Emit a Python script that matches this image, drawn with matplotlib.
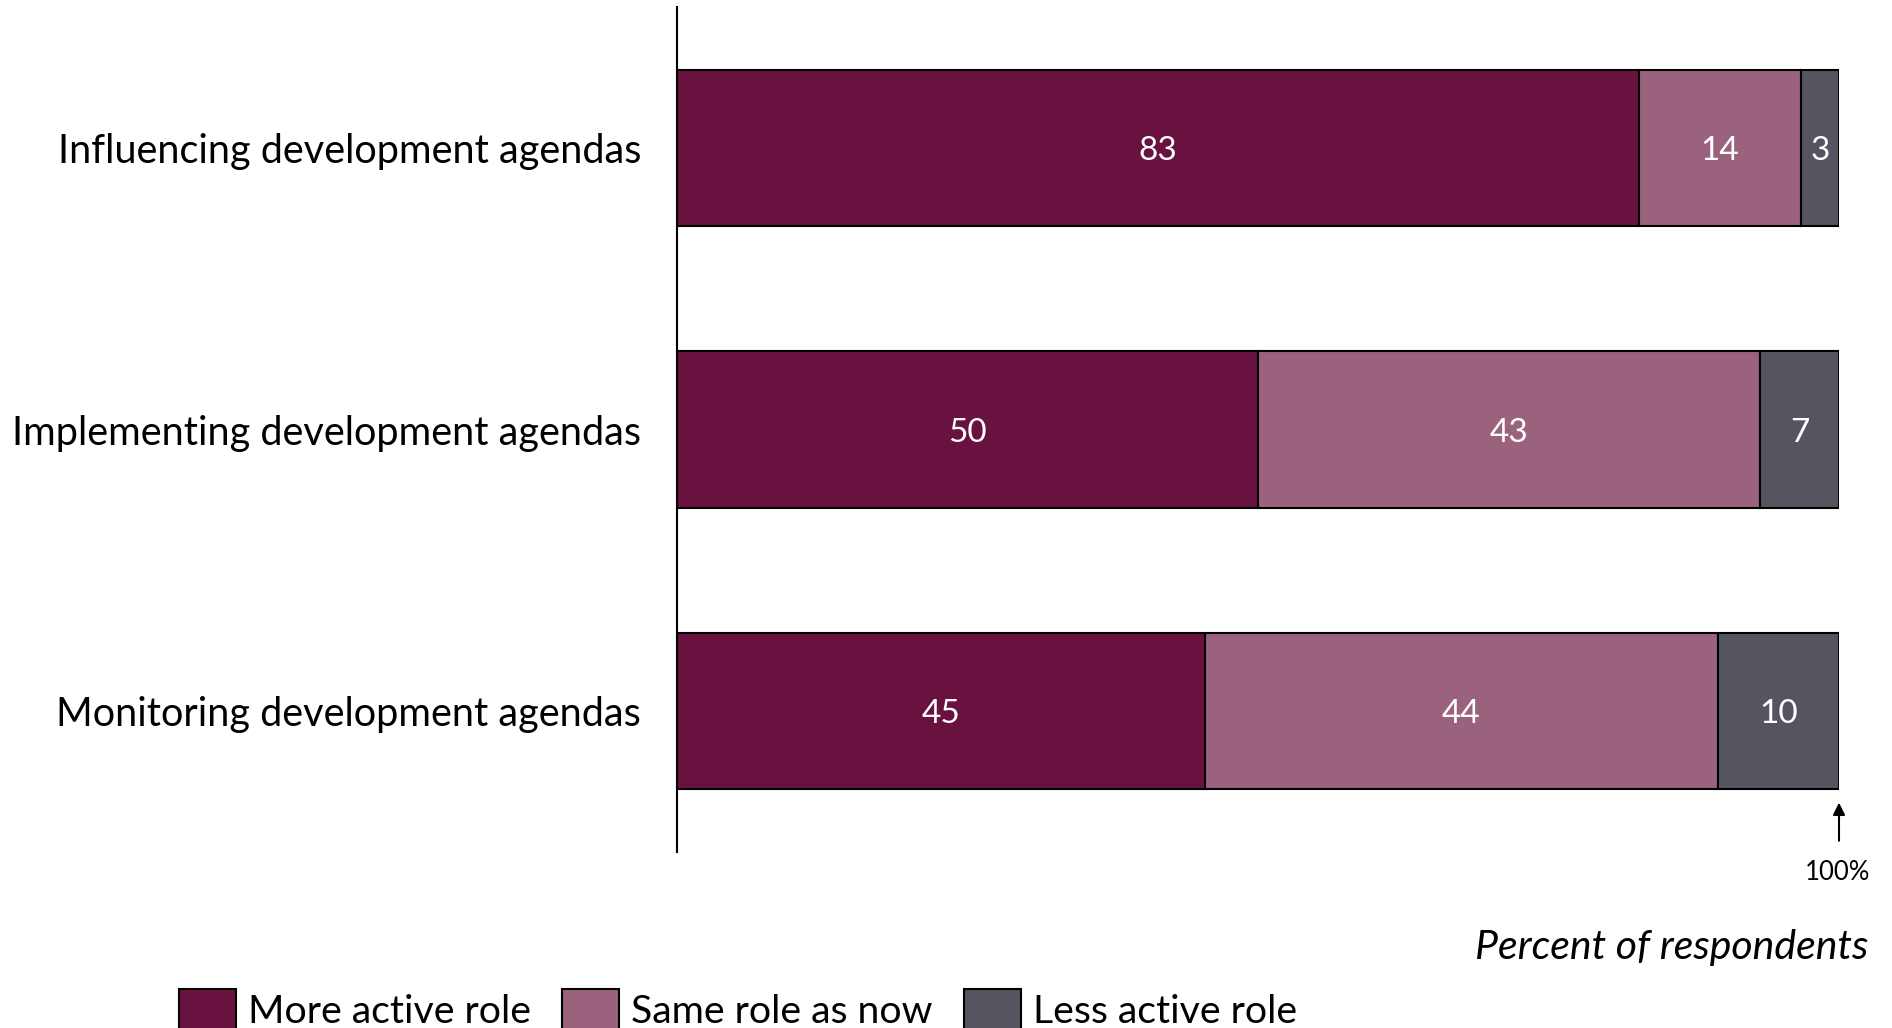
import matplotlib
matplotlib.use("Agg")
import matplotlib.pyplot as plt
import numpy as np

categories = ["Influencing development agendas",
              "Implementing development agendas",
              "Monitoring development agendas"]
series_names = ["More active role", "Same role as now", "Less active role"]
# segment widths (labels show rounded values)
more_active = [82.8, 50.0, 45.4]
same_role = [13.9, 43.2, 44.2]
less_active = [3.3, 6.8, 10.4]
colors = ["#69113F", "#9B627D", "#55555F"]

plt.rcParams['font.family'] = ['Lato', 'DejaVu Sans']

W, H = 1892, 1028
fig = plt.figure(figsize=(W / 100, H / 100), dpi=100)
ax = fig.add_axes([677 / W, 1 - 852 / H, (1839 - 677) / W, (852 - 7) / H])

y = np.arange(len(categories))
left = np.zeros(len(categories))
for vals, name, col in zip([more_active, same_role, less_active], series_names, colors):
    bars = ax.barh(y, vals, left=left, height=0.554, color=col, edgecolor="black",
                   linewidth=1.5, label=name)
    for rect, v in zip(bars, vals):
        ax.text(rect.get_x() + rect.get_width() / 2, rect.get_y() + rect.get_height() / 2,
                f"{v:.0f}", ha="center", va="center_baseline", color="white", fontsize=24)
    left = left + np.array(vals)

ax.set_xlim(0, 100)
ax.set_ylim(2.5, -0.5)
ax.set_yticks(y)
ax.set_yticklabels(categories, fontsize=28.5)
ax.tick_params(axis="y", length=0, pad=26)
ax.set_xticks([])
for s in ["top", "right", "bottom"]:
    ax.spines[s].set_visible(False)
ax.spines["left"].set_linewidth(1.5)

ax.annotate("", xy=(100, 2.315), xytext=(100, 2.47), xycoords="data",
            arrowprops=dict(arrowstyle="-|>", color="black", lw=1.5, mutation_scale=18),
            annotation_clip=False)
fig.text(1838 / W, 1 - 873 / H, "100%", ha="center", va="center", fontsize=18.5)
fig.text(1868 / W, 1 - 947 / H, "Percent of respondents", ha="right", va="center",
         fontsize=29.5, style="italic")

handles, labels = ax.get_legend_handles_labels()
fig.legend(handles, labels, loc="center left", bbox_to_anchor=(179 / W, 1 - 1010 / H),
           ncol=3, frameon=False, fontsize=28.3, handlelength=1.45, handleheight=1.3,
           handletextpad=0.3, columnspacing=0.8, borderpad=0, borderaxespad=0)

fig.savefig("out.png", dpi=100)
